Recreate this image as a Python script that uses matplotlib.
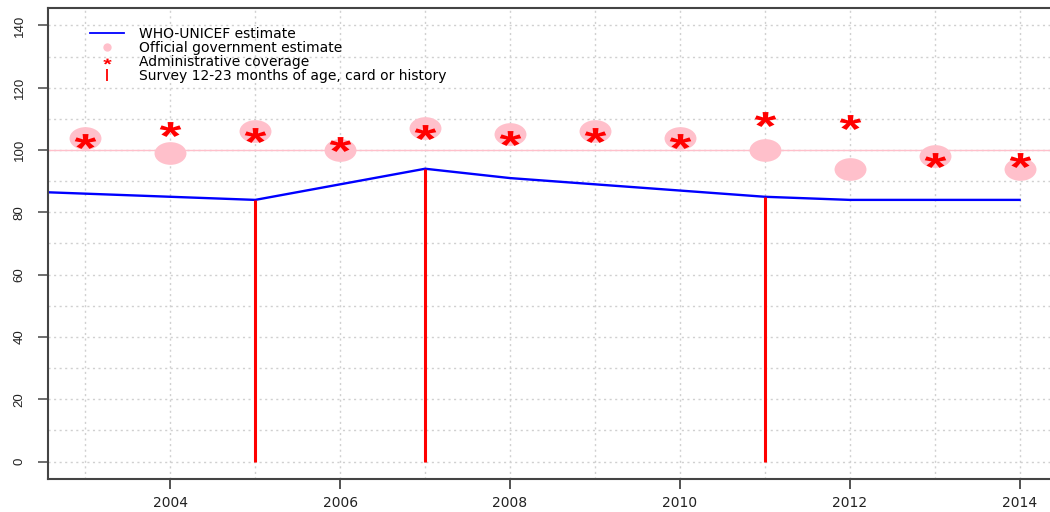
import matplotlib
matplotlib.use("Agg")
import numpy as np
import matplotlib.pyplot as plt
from matplotlib.lines import Line2D
from matplotlib.path import Path
from matplotlib.textpath import TextPath
from matplotlib.font_manager import FontProperties
from matplotlib.transforms import Affine2D, offset_copy

# WHO-UNICEF estimate (2002 value only to carry the line to the left edge)
wuenic_years = [2002, 2003, 2004, 2005, 2006, 2007, 2008, 2009, 2010, 2011, 2012, 2013, 2014]
wuenic = [87, 86, 85, 84, 89, 94, 91, 89, 87, 85, 84, 84, 84]

years = [2003, 2004, 2005, 2006, 2007, 2008, 2009, 2010, 2011, 2012, 2013, 2014]
official = [104, 99, 106, 100, 107, 105, 106, 104, 100, 94, 98, 94]
admin = [104, 108, 106, 103, 107, 105, 106, 104, 111, 110, 98, 98]

survey_years = [2005, 2007, 2011]
survey = [84, 94, 85]

xticks = [2004, 2006, 2008, 2010, 2012, 2014]
yticks = [0, 20, 40, 60, 80, 100, 120, 140]

# wide ellipse and stretched asterisk, like the stretched original
ellipse = Affine2D().scale(1, 0.71).transform_path(Path.unit_circle())
tp = TextPath((0, 0), "*", prop=FontProperties(family="Liberation Sans", weight="bold"), size=10)
verts = tp.vertices.copy()
codes = tp.codes.copy()
start = verts[0]
for i, c in enumerate(codes):
    if c == Path.MOVETO:
        start = verts[i]
    elif c == Path.CLOSEPOLY:
        verts[i] = start
cx = (verts[:, 0].min() + verts[:, 0].max()) / 2
cy = (verts[:, 1].min() + verts[:, 1].max()) / 2
verts = (verts - [cx, cy]) * [1.4, 1.0]
star = Path(verts, codes)

fig = plt.figure(figsize=(10.5, 5.12), dpi=100)
ax = fig.add_axes([48 / 1050, 33 / 512, 1009 / 1050, 471 / 512])
ax.set_xlim(2002.56, 2014.44)
ax.set_ylim(-5.6, 145.6)

grid_style = dict(color="#d0d0d0", lw=1, linestyle=(0, (1.5, 2.5)), zorder=0)
for yr in range(2003, 2015):
    ax.axvline(yr, **grid_style)
for v in range(0, 150, 10):
    ax.axhline(v, **grid_style)

ax.axhline(100, color="pink", lw=1, zorder=1)
ax.plot(wuenic_years, wuenic, color="blue", lw=1.7, zorder=2)
ax.plot(years, official, linestyle="none", marker=ellipse, markersize=23,
        color="pink", markeredgewidth=0, zorder=3)
star_tr = offset_copy(ax.transData, fig=fig, y=-3.5, units="dots")
ax.plot(years, admin, linestyle="none", marker=star, markersize=15.5,
        color="red", markeredgewidth=0, transform=star_tr, zorder=4)
ax.vlines(survey_years, 0, survey, color="red", lw=2.2, zorder=5)

ax.set_xticks(xticks)
ax.set_xticklabels([str(x) for x in xticks], fontsize=10, color="#222222")
ax.set_yticks(yticks)
ax.set_yticklabels([str(y) for y in yticks], fontsize=9.5, rotation=90, va="center",
                   family="Liberation Sans", color="#222222")
ax.tick_params(axis="x", length=7, width=1.2, color="#333333", pad=5)
ax.tick_params(axis="y", length=7, width=1.2, color="#555555", pad=9)

for side in ["left", "bottom", "top"]:
    ax.spines[side].set_color("#444444")
    ax.spines[side].set_linewidth(1.5)
ax.spines["right"].set_visible(False)

handles = [
    Line2D([], [], color="blue", lw=1.3),
    Line2D([], [], linestyle="none", marker="o", color="pink", markersize=6, markeredgewidth=0),
    Line2D([], [], linestyle="none", marker=star, color="red", markersize=6, markeredgewidth=0),
    Line2D([], [], linestyle="none", marker="|", color="red", markersize=9, markeredgewidth=1.3),
]
labels = ["WHO-UNICEF estimate", "Official government estimate",
          "Administrative coverage", "Survey 12-23 months of age, card or history"]
ax.legend(handles, labels, loc="upper left", bbox_to_anchor=(0.042, 0.96),
          frameon=False, fontsize=10, labelspacing=0.0, handlelength=2.4,
          handletextpad=1.1, borderpad=0, borderaxespad=0)

fig.savefig("out.png", dpi=100)
